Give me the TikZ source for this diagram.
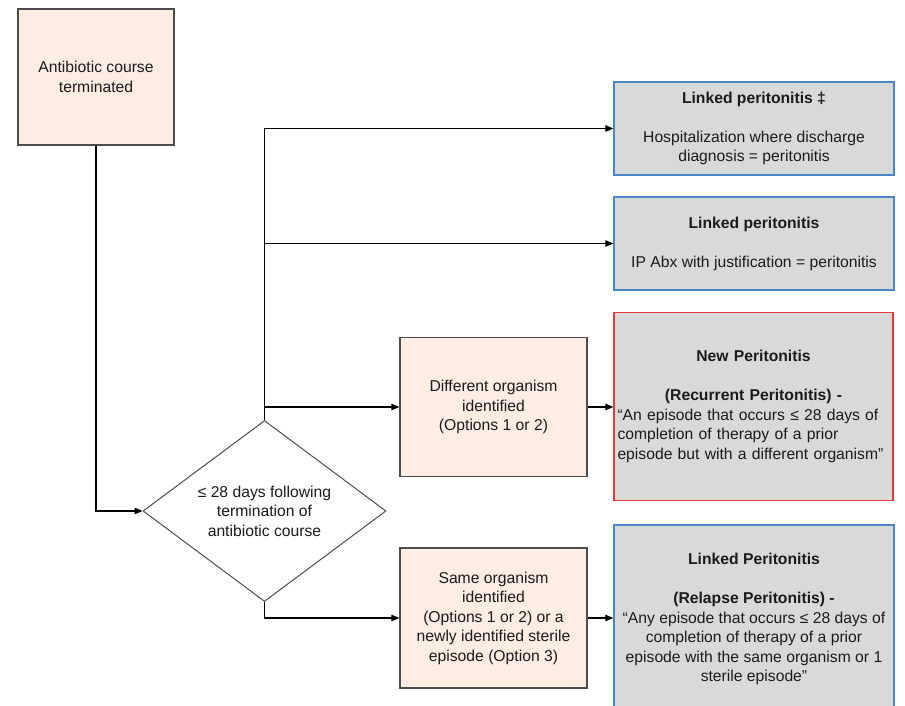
\documentclass[tikz,border=0pt]{standalone}
\usepackage{fontspec}
\setmainfont{Liberation Sans}
\usetikzlibrary{shapes.geometric,arrows.meta}
\definecolor{peach}{HTML}{FDEDE3}
\definecolor{panel}{HTML}{D9D9D9}
\definecolor{edgegray}{HTML}{4D4D4D}
\definecolor{edgeblue}{HTML}{4A86C8}
\definecolor{edgered}{HTML}{E23A3A}
\definecolor{ink}{HTML}{1B1B1B}
\tikzset{
  every node/.style={font=\fontsize{15.7}{19.5}\selectfont, text=ink},
  stepbox/.style={draw=edgegray, fill=peach, line width=1.3pt, align=center, inner sep=0pt},
  outcome/.style={fill=panel, line width=1.3pt, align=center, inner sep=0pt,
                  minimum width=280pt},
  decision/.style={shape=diamond, draw=edgegray, fill=white, line width=1pt,
                   align=center, inner sep=0pt, aspect=1.34,
                   minimum width=243pt, minimum height=181pt},
  flow/.style={draw=black, line width=1.1pt, -{Triangle[length=8pt,width=6.5pt]}},
  trunk/.style={draw=black, line width=1.1pt}
}
\begin{document}
\begin{tikzpicture}[x=1pt,y=-1pt]
\clip (0,0) rectangle (905,706);
\fill[white] (0,0) rectangle (905,706);

% start box
\node[stepbox, minimum width=156pt, minimum height=136pt] (start) at (96,77)
  {Antibiotic course\\terminated};

% decision
\node[decision] (dia) at (264.5,511) {≤ 28 days following\\termination of\\antibiotic course};

% intermediate boxes
\node[stepbox, minimum width=187pt, minimum height=139pt] (diff) at (493.5,407)
  {Different organism\\identified\\(Options 1 or 2)};
\node[stepbox, minimum width=187pt, minimum height=140pt] (same) at (493.5,618)
  {Same organism\\identified\\(Options 1 or 2) or a\\newly identified sterile\\episode (Option 3)};

% outcome panels
\node[outcome, draw=edgeblue, minimum height=93pt] (hosp) at (754,128.5)
  {\textbf{Linked peritonitis ‡}\\[19.5pt]Hospitalization where discharge\\diagnosis = peritonitis};
\node[outcome, draw=edgeblue, minimum height=93pt] (abx) at (754,243.5)
  {\textbf{Linked peritonitis}\\[19.5pt]IP Abx with justification = peritonitis};
\node[outcome, draw=edgered, minimum height=188pt, minimum width=279pt, text width=272pt] (newp) at (753.5,406.5)
  {\textbf{New Peritonitis}\\[19.5pt]\textbf{(Recurrent Peritonitis) -}\\
   \makebox[272pt][l]{“An episode that occurs ≤ 28 days of}\\
   \makebox[272pt][l]{completion of therapy of a prior}\\
   \makebox[272pt][l]{episode but with a different organism”}};
\node[outcome, draw=edgeblue, minimum height=188pt] (relapse) at (754,619)
  {\textbf{Linked Peritonitis}\\[19.5pt]\textbf{(Relapse Peritonitis) -}\\
   “Any episode that occurs ≤ 28 days of\\completion of therapy of a prior\\
   episode with the same organism or 1\\sterile episode”};

% connectors
\draw[flow] (start.south) |- (dia.west);
\draw[flow] (dia.north) |- (hosp.west);
\draw[flow] (dia.north) |- (abx.west);
\draw[flow] (dia.north) |- (diff.west);
\draw[flow] (dia.south) |- (same.west);
\draw[flow] (diff.east) -- (newp.west |- diff.east);
\draw[flow] (same.east) -- (relapse.west |- same.east);
\end{tikzpicture}
\end{document}
